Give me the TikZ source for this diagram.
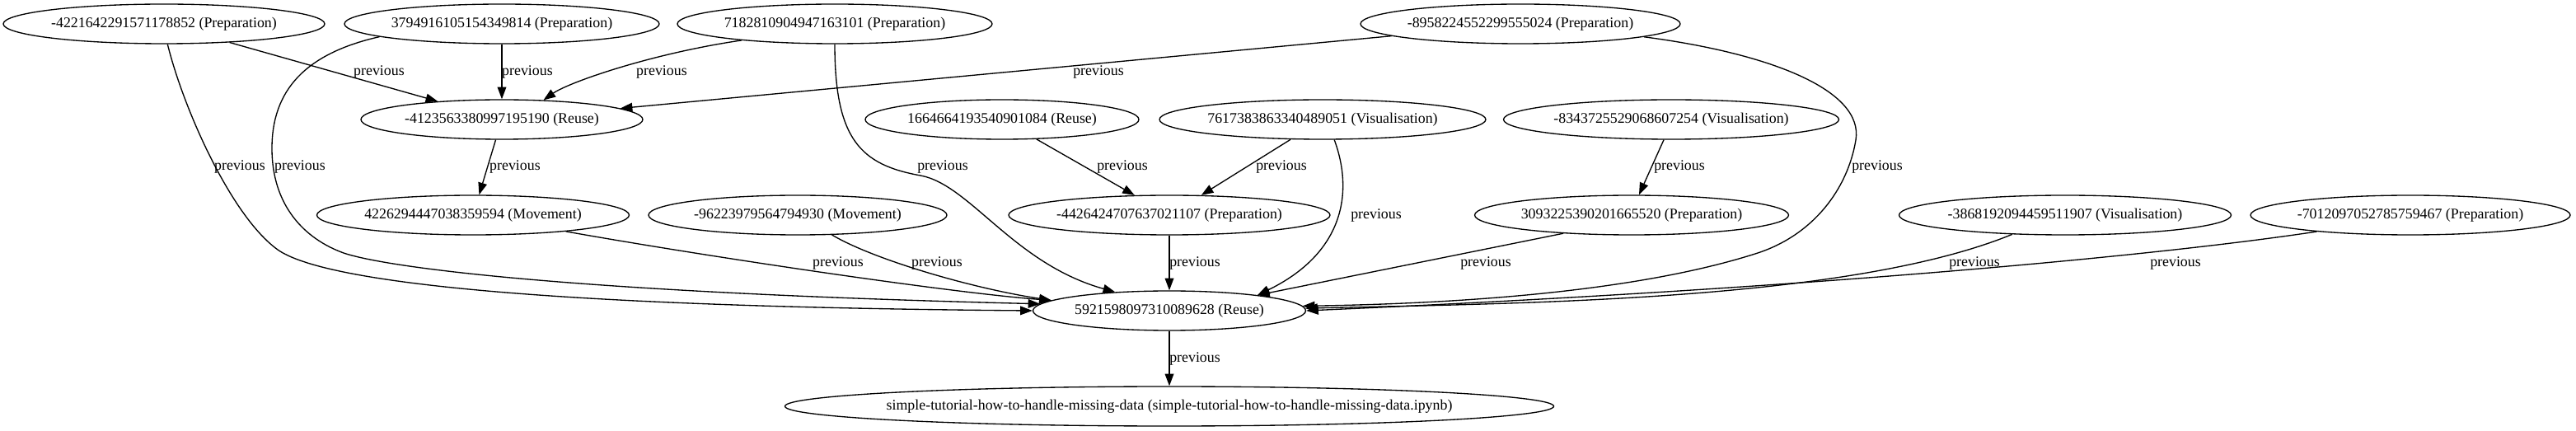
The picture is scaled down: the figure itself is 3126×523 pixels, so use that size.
\documentclass[tikz,border=0pt]{standalone}
\usepackage{fontspec}
\setmainfont{Liberation Serif}
\usetikzlibrary{arrows.meta,shapes.geometric}
\newcommand\ntxt[1]{\makebox[0pt]{#1}}
\begin{document}
\begin{tikzpicture}[x=0.75pt,y=-0.75pt,
  nd/.style={draw, ellipse, line width=1pt, inner sep=0pt, minimum height=36pt, font=\fontsize{13.4}{16}\selectfont},
  link/.style={draw, line width=1pt, -{Triangle[length=11pt,width=8pt]}},
  lbl/.style={inner sep=0pt, font=\fontsize{13.4}{16}\selectfont}]
\useasboundingbox[fill=white] (0,0) rectangle (3126,523);
% row 1
\node[nd, minimum width=292.5pt] (A) at (199,29) {\ntxt{-4221642291571178852 (Preparation)}};
\node[nd, minimum width=286.5pt] (B) at (609,29) {\ntxt{3794916105154349814 (Preparation)}};
\node[nd, minimum width=286.5pt] (C) at (1013,29) {\ntxt{7182810904947163101 (Preparation)}};
\node[nd, minimum width=291pt] (D) at (1845,29) {\ntxt{-8958224552299555024 (Preparation)}};
% row 2
\node[nd, minimum width=256.5pt] (E) at (609,145) {\ntxt{-4123563380997195190 (Reuse)}};
\node[nd, minimum width=249pt] (F) at (1216,145) {\ntxt{1664664193540901084 (Reuse)}};
\node[nd, minimum width=297pt] (G) at (1605,145) {\ntxt{7617383863340489051 (Visualisation)}};
\node[nd, minimum width=305.25pt] (H) at (2028,145) {\ntxt{-8343725529068607254 (Visualisation)}};
% row 3
\node[nd, minimum width=284.25pt] (I) at (574,261) {\ntxt{4226294447038359594 (Movement)}};
\node[nd, minimum width=271.5pt] (J) at (968,261) {\ntxt{-96223979564794930 (Movement)}};
\node[nd, minimum width=292.5pt] (K) at (1419,261) {\ntxt{-4426424707637021107 (Preparation)}};
\node[nd, minimum width=285.75pt] (L) at (1980,261) {\ntxt{3093225390201665520 (Preparation)}};
\node[nd, minimum width=302.25pt] (M) at (2506,261) {\ntxt{-3868192094459511907 (Visualisation)}};
\node[nd, minimum width=291pt] (N) at (2925,261) {\ntxt{-7012097052785759467 (Preparation)}};
% row 4, 5
\node[nd, minimum width=248.25pt] (O) at (1419,377) {\ntxt{5921598097310089628 (Reuse)}};
\node[nd, minimum width=699.75pt] (P) at (1419,493) {\ntxt{simple-tutorial-how-to-handle-missing-data (simple-tutorial-how-to-handle-missing-data.ipynb)}};
% edges
\draw[link] (A) -- (E) node[lbl] at (460,87) {previous};
\draw[link] (B) -- (E) node[lbl] at (640,87) {previous};
\draw[link] (C.190) .. controls (790,65) and (690,100) .. (E.25) node[lbl] at (803,87) {previous};
\draw[link] (D) -- (E) node[lbl] at (1333,87) {previous};
\draw[link] (A.280) .. controls (222,130) and (280,262) .. (337,303) .. controls (392,342) and (650,372) .. (O.180) node[lbl] at (291,202) {previous};
\draw[link] (B.186) .. controls (370,65) and (330,110) .. (330,180) .. controls (330,250) and (370,290) .. (417,307) .. controls (470,325) and (700,355) .. (O.177) node[lbl] at (364,202) {previous};
\draw[link] (E) -- (I) node[lbl] at (625,202) {previous};
\draw[link] (C.270) .. controls (1013,170) and (1045,200) .. (1117,213) .. controls (1177,224) and (1230,320) .. (O.161) node[lbl] at (1144,202) {previous};
\draw[link] (F) -- (K) node[lbl] at (1362,202) {previous};
\draw[link] (G) -- (K) node[lbl] at (1555,202) {previous};
\draw[link] (G.300) .. controls (1645,240) and (1625,310) .. (O.10) node[lbl] at (1670,261) {previous};
\draw[link] (D.354) .. controls (2150,65) and (2262,110) .. (2252,170) .. controls (2242,230) and (2200,285) .. (2133,307) .. controls (2000,350) and (1800,368) .. (O.2) node[lbl] at (2278,202) {previous};
\draw[link] (H.250) -- (L.70) node[lbl] at (2038,202) {previous};
\draw[link] (I.350) .. controls (850,310) and (1150,355) .. (O.175) node[lbl] at (1017,319) {previous};
\draw[link] (J.330) .. controls (1060,315) and (1180,350) .. (O.175) node[lbl] at (1137,319) {previous};
\draw[link] (K) -- (O) node[lbl] at (1450,319) {previous};
\draw[link] (L.195) -- (O.10) node[lbl] at (1803,319) {previous};
\draw[link] (M.200) .. controls (2245,365) and (1850,368) .. (O.1) node[lbl] at (2396,319) {previous};
\draw[link] (N.190) .. controls (2620,310) and (2200,350) .. (O.east) node[lbl] at (2640,319) {previous};
\draw[link] (O) -- (P) node[lbl] at (1450,435) {previous};
\end{tikzpicture}
\end{document}
